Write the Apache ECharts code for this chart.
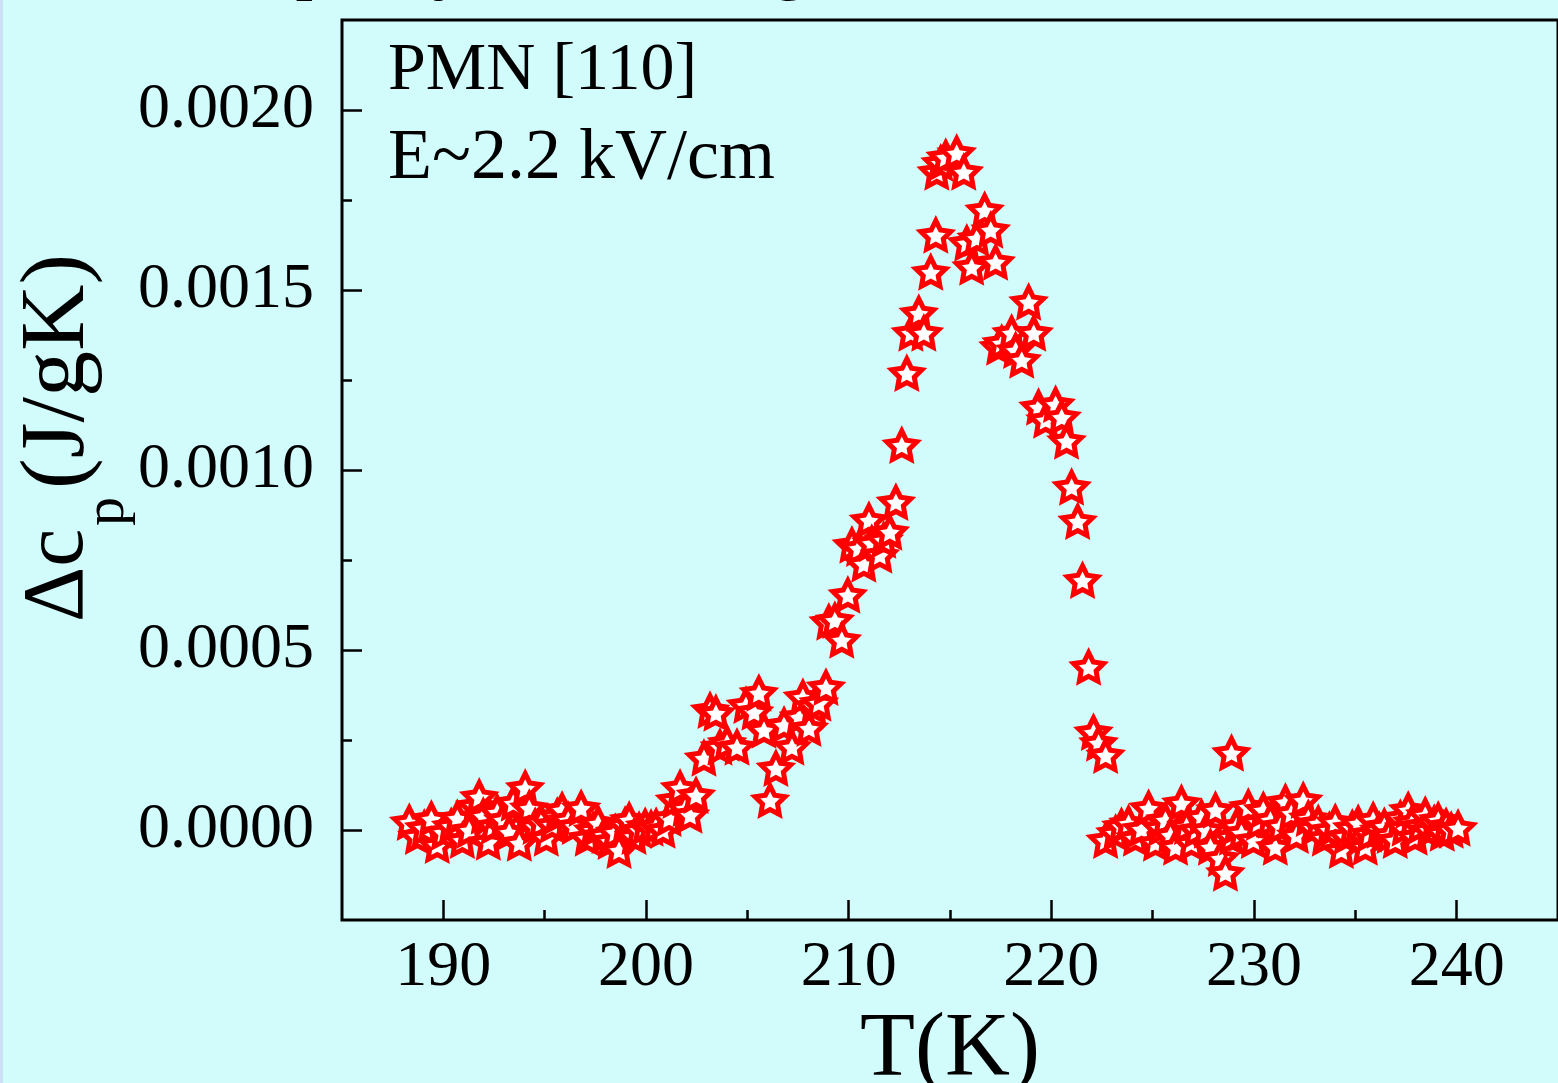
<!DOCTYPE html>
<html>
<head>
<meta charset="utf-8">
<script src="https://cdn.jsdelivr.net/npm/echarts/dist/echarts.min.js"></script>
<style>
html,body{margin:0;padding:0;background:#d2fbfb;}
#chart{width:1558px;height:1083px;}
</style>
</head>
<body>
<div id="chart"></div>
<script>
// Temperature (K)
const temperatureK = [
  188.32,188.72,189.06,189.41,189.70,190.00,190.39,190.69,190.94,191.28,191.58,191.77,191.97,192.22,192.46,192.66,192.96,193.25,193.45,193.75,
  194.04,194.24,194.53,194.83,195.08,195.37,195.62,195.86,196.16,196.46,196.80,197.10,197.39,197.64,197.93,198.23,198.48,198.67,198.97,199.17,
  199.41,199.66,199.96,200.25,200.50,200.84,201.14,201.43,201.68,201.93,202.17,202.47,
  202.86,203.16,203.45,203.65,204.00,204.49,204.93,205.33,205.57,205.82,206.12,206.41,206.81,207.20,207.55,207.74,208.04,208.28,208.53,208.88,
  209.02,209.32,209.66,209.96,210.16,210.49,210.75,211.00,211.14,211.54,211.73,212.03,212.33,212.62,212.87,213.07,213.46,213.71,214.05,214.30,
  214.35,214.54,214.79,215.33,215.68,215.83,216.07,216.32,216.71,217.01,217.25,217.40,217.55,218.04,218.24,218.54,218.88,219.13,219.37,219.72,
  220.21,220.51,220.75,221.00,221.30,221.54,221.84,222.08,222.33,222.68,
  222.68,223.17,223.46,223.81,224.15,224.45,224.80,225.14,225.39,225.63,225.88,226.13,226.42,226.67,226.91,227.16,227.41,227.65,227.85,228.10,
  228.34,228.59,228.89,228.89,229.13,229.38,229.72,229.97,230.22,230.46,230.81,231.05,231.30,231.55,231.84,232.09,232.43,232.68,232.93,233.17,
  233.47,233.72,234.01,234.31,234.55,234.85,235.14,235.49,235.69,235.88,236.18,236.43,236.67,236.97,237.22,237.41,237.61,237.81,237.95,238.20,
  238.45,238.64,238.89,239.09,239.29,239.48,239.73,240.07
];
// Delta c_p (J/gK)
const deltaCp = [
  0.000022,-0.000017,0.000006,0.000031,-0.000042,-0.000006,0.000011,0.000033,-0.000028,0.000000,0.000067,0.000092,0.000039,-0.000033,0.000011,0.000050,0.000028,-0.000006,0.000075,-0.000036,
  0.000117,0.000061,0.000011,0.000022,-0.000022,0.000014,0.000039,0.000056,0.000028,0.000011,0.000061,-0.000022,0.000000,0.000019,-0.000014,-0.000031,-0.000006,-0.000056,0.000014,0.000028,
  -0.000017,0.000000,0.000011,0.000006,0.000011,0.000000,0.000033,0.000083,0.000117,0.000061,0.000042,0.000097,
  0.000200,0.000333,0.000325,0.000231,0.000242,0.000231,0.000347,0.000328,0.000381,0.000278,0.000083,0.000172,0.000292,0.000231,0.000314,0.000369,0.000283,0.000344,0.000353,0.000397,
  0.000578,0.000583,0.000528,0.000653,0.000792,0.000783,0.000739,0.000861,0.000797,0.000764,0.000806,0.000828,0.000911,0.001069,0.001269,0.001381,0.001436,0.001381,0.001550,0.001653,
  0.001828,0.001853,0.001869,0.001881,0.001828,0.001631,0.001564,0.001644,0.001722,0.001667,0.001578,0.001342,0.001353,0.001381,0.001333,0.001306,0.001467,0.001381,0.001175,0.001139,
  0.001183,0.001147,0.001081,0.000953,0.000858,0.000694,0.000453,0.000272,0.000242,0.000208,
  -0.000028,-0.000008,0.000011,0.000019,-0.000022,0.000003,0.000061,-0.000036,0.000006,0.000028,-0.000014,-0.000047,0.000075,0.000011,-0.000036,0.000000,0.000036,0.000000,-0.000047,0.000056,
  -0.000078,-0.000119,0.000214,-0.000019,0.000011,-0.000008,0.000064,-0.000028,0.000022,0.000056,0.000028,-0.000047,0.000011,0.000078,0.000047,-0.000014,0.000083,0.000033,0.000006,0.000019,
  -0.000022,0.000000,0.000022,-0.000056,-0.000017,0.000006,0.000019,-0.000047,-0.000011,0.000028,0.000000,0.000011,-0.000014,-0.000028,0.000033,0.000006,0.000056,0.000022,-0.000019,0.000011,
  0.000042,0.000000,0.000019,0.000028,-0.000008,0.000011,0.000000,0.000006
];
const xMajorTicks = [190, 200, 210, 220, 230, 240];
const xMinorTicks = [195, 205, 215, 225, 235];
const yMajorTicks = [0, 0.0005, 0.0010, 0.0015, 0.0020];
const yMinorTicks = [0.00025, 0.00075, 0.00125, 0.00175];
const annotationLines = ['PMN [110]', 'E~2.2 kV/cm'];

function starSymbol(R, r) {
  const pts = [];
  for (let i = 0; i < 10; i++) {
    const a = -Math.PI / 2 + i * Math.PI / 5;
    const rad = i % 2 === 0 ? R : r;
    pts.push((R + rad * Math.cos(a)).toFixed(2) + ',' + (R + rad * Math.sin(a)).toFixed(2));
  }
  return 'path://M' + pts.join('L') + 'Z';
}

const FONT = '"Liberation Serif", "Times New Roman", serif';
const chart = echarts.init(document.getElementById('chart'), null, {renderer: 'canvas', width: 1558, height: 1083});

const gridPos = {left: 342, top: 20, width: 1218, height: 900};
const noLine = {show: false, onZero: false};
const tickStyle = {color: '#000', width: 2.5};

const option = {
  backgroundColor: '#d2fbfb',
  animation: false,
  grid: Object.assign({show: true, borderColor: '#000', borderWidth: 3, backgroundColor: 'transparent'}, gridPos),
  xAxis: [
    {
      type: 'value', position: 'bottom', min: 185, max: 245,
      axisLine: noLine, splitLine: {show: false},
      axisTick: {show: true, inside: true, length: 20, lineStyle: tickStyle, customValues: xMajorTicks},
      axisLabel: {show: true, customValues: xMajorTicks, fontFamily: FONT, fontSize: 64, color: '#000', margin: 16}
    },
    {
      type: 'value', position: 'bottom', min: 185, max: 245,
      axisLine: noLine, splitLine: {show: false},
      axisTick: {show: true, inside: true, length: 10, lineStyle: tickStyle, customValues: xMinorTicks},
      axisLabel: {show: false}
    }
  ],
  yAxis: [
    {
      type: 'value', position: 'left', min: -0.00025, max: 0.00225,
      axisLine: noLine, splitLine: {show: false},
      axisTick: {show: true, inside: true, length: 20, lineStyle: tickStyle, customValues: yMajorTicks},
      axisLabel: {show: true, customValues: yMajorTicks, fontFamily: FONT, fontSize: 64, color: '#000', margin: 28,
        formatter: v => Number(v).toFixed(4)}
    },
    {
      type: 'value', position: 'left', min: -0.00025, max: 0.00225,
      axisLine: noLine, splitLine: {show: false},
      axisTick: {show: true, inside: true, length: 10, lineStyle: tickStyle, customValues: yMinorTicks},
      axisLabel: {show: false}
    }
  ],
  series: [{
    type: 'scatter',
    xAxisIndex: 0, yAxisIndex: 0,
    data: temperatureK.map((t, i) => [t, deltaCp[i]]),
    symbol: starSymbol(100, 50),
    symbolKeepAspect: true,
    symbolSize: 30,
    itemStyle: {color: '#ffffff', borderColor: '#ff0000', borderWidth: 5, opacity: 1},
    emphasis: {disabled: true},
    silent: true
  }],
  graphic: [
    {type: 'rect', left: 0, top: 0, shape: {width: 3, height: 1083}, style: {fill: '#cbe0f6'}, silent: true},
    // y-axis title (rotated)
    {
      type: 'group', x: 88, y: 622, rotation: Math.PI / 2, silent: true,
      children: [
        {type: 'text', x: 0, y: -29, style: {text: 'Δc', fontFamily: FONT, fontSize: 86, fill: '#000', align: 'left', verticalAlign: 'middle'}},
        {type: 'text', x: 96, y: 20, style: {text: 'p', fontFamily: FONT, fontSize: 58, fill: '#000', align: 'left', verticalAlign: 'middle'}},
        {type: 'text', x: 133, y: -29, style: {text: '(J/gK)', fontFamily: FONT, fontSize: 92, fill: '#000', align: 'left', verticalAlign: 'middle'}}
      ]
    },
    // x-axis title
    {type: 'text', x: 950, y: 1051, silent: true, style: {text: 'T(K)', fontFamily: FONT, fontSize: 90, fill: '#000', align: 'center', verticalAlign: 'middle'}},
    // annotations
    {type: 'text', x: 388, y: 71, silent: true, style: {text: annotationLines[0], fontFamily: FONT, fontSize: 68, fill: '#000', align: 'left', verticalAlign: 'middle'}},
    {type: 'text', x: 388, y: 159, silent: true, style: {text: annotationLines[1], fontFamily: FONT, fontSize: 72, fill: '#000', align: 'left', verticalAlign: 'middle'}},
    // cut-off title line above the frame (only descenders visible)
    {type: 'text', x: 313, y: -32, silent: true, style: {text: 'p', fontFamily: FONT, fontSize: 70, fill: '#000', align: 'center', verticalAlign: 'middle'}},
    {type: 'text', x: 450, y: -32, silent: true, style: {text: 'y', fontFamily: FONT, fontSize: 70, fill: '#000', align: 'center', verticalAlign: 'middle'}},
    {type: 'text', x: 790, y: -32, silent: true, style: {text: 'g', fontFamily: FONT, fontSize: 70, fill: '#000', align: 'center', verticalAlign: 'middle'}},
    {type: 'text', x: 1535, y: -32, silent: true, style: {text: ',', fontFamily: FONT, fontSize: 70, fill: '#000', align: 'center', verticalAlign: 'middle'}}
  ]
};
chart.setOption(option);
</script>
</body>
</html>
